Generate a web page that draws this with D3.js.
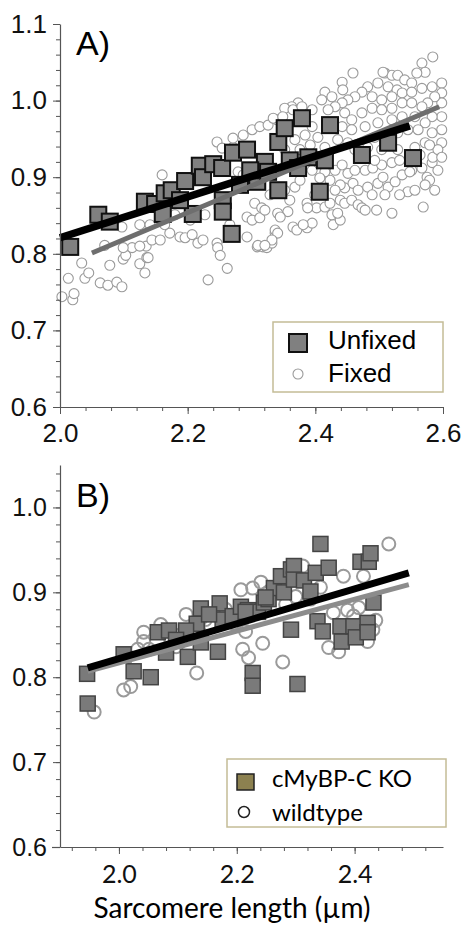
<!DOCTYPE html>
<html>
<head>
<meta charset="utf-8">
<script src="https://cdn.jsdelivr.net/npm/d3@7/dist/d3.min.js"></script>
<style>
  body { margin: 0; background: #fff; }
</style>
</head>
<body>
<script>
// ---- panel A data: [sarcomere length (um), ratio] ----
var unfixed = [
  [2.016,0.809],[2.060,0.851],[2.078,0.842],[2.133,0.868],[2.149,0.865],[2.164,0.879],
  [2.175,0.883],[2.196,0.895],[2.219,0.915],[2.224,0.900],[2.240,0.917],[2.254,0.912],
  [2.161,0.852],[2.208,0.852],[2.255,0.870],[2.255,0.855],[2.269,0.826],[2.271,0.932],
  [2.293,0.936],[2.309,0.894],[2.321,0.920],[2.326,0.907],[2.342,0.883],[2.342,0.946],
  [2.352,0.964],[2.379,0.977],[2.360,0.922],[2.373,0.912],[2.389,0.926],[2.415,0.922],
  [2.423,0.968],[2.407,0.881],[2.473,0.929],[2.514,0.945],[2.553,0.925],[2.188,0.870],
  [2.282,0.890],[2.298,0.909]
];

var fixed = [
  [2.003,0.744],[2.013,0.768],[2.020,0.740],[2.022,0.748],[2.034,0.788],[2.039,0.768],
  [2.045,0.775],[2.063,0.762],[2.075,0.759],[2.089,0.763],[2.097,0.757],[2.099,0.793],
  [2.103,0.798],[2.113,0.808],[2.125,0.787],[2.133,0.775],[2.136,0.795],[2.135,0.810],
  [2.144,0.818],[2.097,0.835],[2.125,0.838],[2.172,0.827],[2.188,0.822],[2.196,0.821],
  [2.207,0.825],[2.216,0.814],[2.224,0.818],[2.232,0.766],[2.246,0.814],[2.247,0.808],
  [2.251,0.798],[2.262,0.781],[2.293,0.822],[2.309,0.809],[2.318,0.809],[2.324,0.808],
  [2.332,0.814],[2.337,0.827],[2.365,0.835],[2.387,0.834],[2.395,0.840],[2.428,0.838],
  [2.439,0.844],[2.160,0.903],[2.246,0.946],[2.254,0.938],[2.287,0.955],[2.271,0.939],
  [2.279,0.907],[2.287,0.903],[2.293,0.848],[2.099,0.808],[2.125,0.810],[2.138,0.795],
  [2.078,0.785],[2.070,0.811],[2.266,0.838],[2.227,0.851],[2.204,0.844],[2.180,0.851],
  [2.164,0.838],[2.141,0.838],[2.157,0.818],
  [2.305,0.866],[2.316,0.860],[2.301,0.844],[2.313,0.847],[2.341,0.853],[2.357,0.855],
  [2.345,0.848],[2.337,0.831],[2.341,0.827],[2.332,0.818],[2.310,0.811],[2.321,0.811],
  [2.371,0.831],[2.381,0.838],[2.368,0.887],[2.387,0.866],[2.402,0.860],[2.415,0.861],
  [2.426,0.851],[2.435,0.853],[2.423,0.866],[2.439,0.870],[2.446,0.866],[2.457,0.870],
  [2.467,0.864],[2.473,0.860],[2.478,0.857],[2.446,0.886],[2.459,0.892],[2.467,0.883],
  [2.482,0.887],[2.489,0.877],[2.496,0.857],[2.498,0.892],[2.506,0.900],[2.514,0.887],
  [2.525,0.894],[2.536,0.903],[2.545,0.881],[2.520,0.853],[2.569,0.861],[2.551,0.909],
  [2.567,0.912],[2.575,0.900],[2.583,0.919],[2.592,0.909],[2.478,0.909],[2.490,0.912],
  [2.504,0.916],[2.520,0.919],[2.431,0.909],[2.442,0.916],[2.451,0.905],[2.462,0.909],
  [2.410,0.883],[2.423,0.896],[2.388,0.860],[2.395,0.909],[2.404,0.919],[2.415,0.907],
  [2.579,0.896],[2.548,0.907],[2.584,0.926],
  [2.584,1.057],[2.567,1.049],[2.572,1.037],[2.559,1.036],[2.459,1.036],[2.442,1.024],
  [2.443,1.014],[2.415,1.011],[2.509,1.036],[2.520,1.033],[2.529,1.033],[2.540,1.027],
  [2.551,1.023],[2.498,1.023],[2.514,1.018],[2.528,1.014],[2.482,1.018],[2.473,1.011],
  [2.462,1.005],[2.451,1.001],[2.442,0.997],[2.431,0.992],[2.420,0.988],[2.489,1.005],
  [2.504,1.001],[2.520,1.005],[2.536,1.010],[2.551,1.011],[2.567,1.016],[2.583,1.018],
  [2.598,1.023],[2.598,1.010],[2.598,0.997],[2.598,0.979],[2.598,0.962],[2.598,0.945],
  [2.587,1.005],[2.576,0.997],[2.567,0.992],[2.583,0.979],[2.572,0.971],[2.561,0.962],
  [2.583,0.958],[2.572,0.945],[2.556,0.979],[2.395,0.988],[2.384,0.979],[2.373,0.997],
  [2.363,0.992],[2.352,0.990],[2.301,0.962],[2.313,0.966],[2.326,0.968],[2.340,0.975],
  [2.446,0.984],[2.457,0.975],[2.473,0.984],[2.489,0.990],[2.504,0.988],[2.520,0.990],
  [2.536,0.997],[2.551,0.997],[2.442,0.966],[2.457,0.962],[2.478,0.966],[2.498,0.971],
  [2.520,0.975],[2.536,0.979],[2.435,0.949],[2.451,0.945],[2.493,0.952],[2.529,0.958],
  [2.545,0.962],[2.410,1.001],[2.426,1.005],[2.395,0.966],[2.404,0.952],[2.415,0.939],
  [2.482,0.939],[2.504,0.936],[2.529,0.936],[2.556,0.939],[2.592,0.936],[2.598,0.926],
  [2.271,0.951],[2.334,0.977],[2.349,0.979],[2.365,0.988],[2.379,0.992],[2.506,1.037],
  [2.352,0.936],[2.368,0.949],[2.384,0.955],[2.376,0.936],[2.392,0.942],[2.462,0.936],
  [2.470,0.926],[2.493,0.922],[2.532,0.922],[2.564,0.929],[2.579,0.942],[2.556,0.883],
  [2.572,0.890],[2.587,0.883],[2.532,0.877],[2.509,0.877],[2.439,0.890],[2.431,0.883],
  [2.407,0.899],[2.376,0.896],[2.352,0.883],[2.329,0.877],[2.321,0.857],[2.360,0.870],
  [2.399,0.877]
];

// linear fits, [start, end]
var fitUnfixed = [[2.0, 0.821], [2.548, 0.967]];
var fitFixed = [[2.05, 0.801], [2.594, 0.992]];

// ---- panel B data ----
var ko = [
  [1.946,0.804],[1.947,0.769],[2.008,0.827],[2.025,0.807],[2.054,0.800],[2.066,0.853],
  [2.085,0.855],[2.080,0.829],[2.117,0.824],[2.132,0.863],[2.139,0.881],[2.139,0.841],
  [2.168,0.830],[2.171,0.887],[2.176,0.868],[2.193,0.872],[2.207,0.883],[2.219,0.879],
  [2.236,0.877],[2.246,0.888],[2.254,0.892],[2.263,0.905],[2.275,0.919],[2.280,0.900],
  [2.292,0.927],[2.297,0.931],[2.297,0.915],[2.314,0.914],[2.325,0.901],[2.334,0.923],
  [2.342,0.957],[2.356,0.929],[2.337,0.866],[2.346,0.854],[2.292,0.856],[2.376,0.860],
  [2.378,0.842],[2.398,0.860],[2.402,0.847],[2.422,0.864],[2.422,0.853],[2.410,0.936],
  [2.424,0.936],[2.427,0.946],[2.432,0.888],[2.227,0.805],[2.227,0.790],[2.303,0.792],
  [2.215,0.877],[2.249,0.894],[2.153,0.874],[2.114,0.855],[2.097,0.844]
];

var wildtype = [
  [1.958,0.759],[2.008,0.785],[2.020,0.789],[2.032,0.833],[2.042,0.842],[2.042,0.853],
  [2.051,0.833],[2.088,0.844],[2.097,0.836],[2.132,0.805],[2.156,0.860],[2.195,0.864],
  [2.207,0.903],[2.227,0.905],[2.210,0.833],[2.220,0.823],[2.244,0.840],[2.278,0.818],
  [2.312,0.931],[2.342,0.906],[2.381,0.919],[2.415,0.919],[2.458,0.957],[2.356,0.835],
  [2.373,0.830],[2.364,0.876],[2.388,0.879],[2.407,0.882],[2.398,0.872],[2.422,0.842],
  [2.436,0.867],[2.253,0.900],[2.241,0.912],[2.300,0.895],[2.215,0.854],[2.071,0.862],
  [2.114,0.874],[2.147,0.868],[2.181,0.880],[2.105,0.850],[2.431,0.856],[2.325,0.892],
  [2.283,0.886]
];

var fitKO = [[1.947, 0.811], [2.492, 0.923]];
var fitWT = [[1.947, 0.807], [2.492, 0.909]];

// tick labels
var xTicksA = [2.0, 2.2, 2.4, 2.6];
var yTicksA = [0.6, 0.7, 0.8, 0.9, 1.0, 1.1];
var xTicksB = [2.0, 2.2, 2.4];
var yTicksB = [0.6, 0.7, 0.8, 0.9, 1.0];

var w = 463, h = 928;
var arial = "'Liberation Sans', Arial, sans-serif";
var calibri = "Lato, 'Open Sans', sans-serif";
var fmt = d3.format(".1f");

var svg = d3.select("body").append("svg")
    .attr("width", w)
    .attr("height", h);

// scales
var xA = d3.scaleLinear().domain([2.0, 2.6]).range([60, 443]);
var yA = d3.scaleLinear().domain([0.6, 1.1]).range([407, 24]);
var xB = d3.scaleLinear().domain([1.9, 2.55]).range([60, 443]);
var yB = d3.scaleLinear().domain([0.6, 1.05]).range([847, 465]);

// draws minor + major ticks for one axis
function drawAxis(axisFn, scale, major, minor, pos, font, size, pad) {
    var g = svg.append("g").attr("transform", pos);
    g.append("g")
        .call(axisFn(scale).tickValues(minor).tickSize(4).tickFormat(""))
        .call(function(s) { s.select(".domain").remove(); });
    var a = g.append("g")
        .call(axisFn(scale).tickValues(major).tickSize(7).tickSizeOuter(0).tickPadding(pad).tickFormat(fmt));
    g.selectAll("line").attr("stroke", "#555");
    a.select(".domain").attr("stroke", "#555").attr("stroke-width", 1.2);
    a.selectAll("text")
        .style("font-family", font)
        .style("font-size", size + "px")
        .attr("fill", "#111");
    return g;
}

function steps(a, b, s) {
    var n = Math.round((b - a) / s);
    return d3.range(n + 1).map(function(i) { return +(a + i * s).toFixed(3); });
}

// ---------- Panel A ----------
var gA = svg.append("g");

gA.selectAll(".fixed")
    .data(fixed)
    .enter().append("circle")
    .attr("cx", function(d) { return xA(d[0]); })
    .attr("cy", function(d) { return yA(d[1]); })
    .attr("r", 5)
    .attr("fill", "#fff")
    .attr("stroke", "#9a9a9a")
    .attr("stroke-width", 1.1);

gA.selectAll(".unfixed")
    .data(unfixed)
    .enter().append("rect")
    .attr("x", function(d) { return xA(d[0]) - 8; })
    .attr("y", function(d) { return yA(d[1]) - 8; })
    .attr("width", 16)
    .attr("height", 16)
    .attr("fill", "#808080")
    .attr("stroke", "#111")
    .attr("stroke-width", 2);

var lineA = d3.line().x(function(d) { return xA(d[0]); }).y(function(d) { return yA(d[1]); });
gA.append("path").datum(fitFixed).attr("d", lineA)
    .attr("stroke", "#6e6e6e").attr("stroke-width", 5).attr("fill", "none");
gA.append("path").datum(fitUnfixed).attr("d", lineA)
    .attr("stroke", "#000").attr("stroke-width", 7.5).attr("fill", "none");

drawAxis(d3.axisLeft, yA, yTicksA, steps(0.6, 1.1, 0.02), "translate(60,0)", arial, 26, 6);
drawAxis(d3.axisBottom, xA, xTicksA, steps(2.0, 2.6, 0.04), "translate(0,407)", arial, 26, 10);

gA.append("text")
    .attr("x", 76).attr("y", 55)
    .style("font-family", arial).style("font-size", "34px")
    .text("A)");

// legend A
var legA = svg.append("g");
legA.append("rect")
    .attr("x", 273).attr("y", 322).attr("width", 170).attr("height", 70)
    .attr("fill", "#fff").attr("stroke", "#c4bc96").attr("stroke-width", 1.5);
legA.append("rect")
    .attr("x", 289).attr("y", 334).attr("width", 18).attr("height", 18)
    .attr("fill", "#808080").attr("stroke", "#111").attr("stroke-width", 2);
legA.append("circle")
    .attr("cx", 298).attr("cy", 374).attr("r", 5)
    .attr("fill", "#fff").attr("stroke", "#9a9a9a").attr("stroke-width", 1.1);
legA.selectAll("text")
    .data(["Unfixed", "Fixed"])
    .enter().append("text")
    .attr("x", 328)
    .attr("y", function(d, i) { return 349 + i * 33; })
    .style("font-family", arial).style("font-size", "26px")
    .text(function(d) { return d; });

// ---------- Panel B ----------
var gB = svg.append("g");

gB.selectAll(".wt")
    .data(wildtype)
    .enter().append("circle")
    .attr("cx", function(d) { return xB(d[0]); })
    .attr("cy", function(d) { return yB(d[1]); })
    .attr("r", 6.5)
    .attr("fill", "none")
    .attr("stroke", "#9a9a9a")
    .attr("stroke-width", 2);

gB.selectAll(".ko")
    .data(ko)
    .enter().append("rect")
    .attr("x", function(d) { return xB(d[0]) - 7.5; })
    .attr("y", function(d) { return yB(d[1]) - 7.5; })
    .attr("width", 15)
    .attr("height", 15)
    .attr("fill", "#7a7a7a")
    .attr("stroke", "#444")
    .attr("stroke-width", 1.5);

var lineB = d3.line().x(function(d) { return xB(d[0]); }).y(function(d) { return yB(d[1]); });
gB.append("path").datum(fitWT).attr("d", lineB)
    .attr("stroke", "#8c8c8c").attr("stroke-width", 5).attr("fill", "none");
gB.append("path").datum(fitKO).attr("d", lineB)
    .attr("stroke", "#000").attr("stroke-width", 7).attr("fill", "none");

drawAxis(d3.axisLeft, yB, yTicksB, steps(0.6, 1.04, 0.02), "translate(60,0)", arial, 25, 6);
var axB = drawAxis(d3.axisBottom, xB, xTicksB, steps(1.92, 2.52, 0.04), "translate(0,847)", calibri, 25, 11);
axB.append("line")
    .attr("x1", 52).attr("x2", 60).attr("y1", 0.5).attr("y2", 0.5)
    .attr("stroke", "#555").attr("stroke-width", 1.2);

gB.append("text")
    .attr("x", 76).attr("y", 507)
    .style("font-family", arial).style("font-size", "34px")
    .text("B)");

// legend B
var legB = svg.append("g");
legB.append("rect")
    .attr("x", 227).attr("y", 759).attr("width", 219).attr("height", 68)
    .attr("fill", "#fff").attr("stroke", "#c4bc96").attr("stroke-width", 1.5);
legB.append("rect")
    .attr("x", 237).attr("y", 774).attr("width", 17).attr("height", 16)
    .attr("fill", "#8c8150").attr("stroke", "#222").attr("stroke-width", 1.5);
legB.append("circle")
    .attr("cx", 244).attr("cy", 812).attr("r", 5.5)
    .attr("fill", "none").attr("stroke", "#222").attr("stroke-width", 1.5);
legB.selectAll("text")
    .data(["cMyBP-C KO", "wildtype"])
    .enter().append("text")
    .attr("x", 272)
    .attr("y", function(d, i) { return 787 + i * 34; })
    .style("font-family", calibri).style("font-size", "24px")
    .text(function(d) { return d; });

// x axis title
svg.append("text")
    .attr("x", 232).attr("y", 918)
    .attr("text-anchor", "middle")
    .style("font-family", calibri).style("font-size", "28px")
    .text("Sarcomere length (\u00b5m)");
</script>
</body>
</html>
